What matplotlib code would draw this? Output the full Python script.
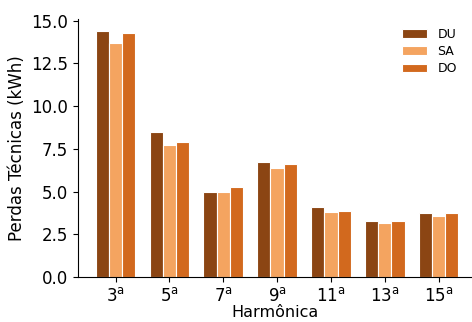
import numpy as np
import matplotlib.pyplot as plt

# harmonic orders and losses per method
harmonics = ["3", "5", "7", "9", "11", "13", "15"]
du = [14.4, 8.5, 4.95, 6.7, 4.1, 3.27, 3.75]
sa = [13.7, 7.75, 5.0, 6.4, 3.8, 3.15, 3.58]
do = [14.3, 7.9, 5.25, 6.6, 3.85, 3.27, 3.76]

labels = [r"$%s^{\mathrm{a}}$" % h for h in harmonics]
plt.rcParams['mathtext.fontset'] = 'dejavusans'

fig = plt.figure(figsize=(4.72, 3.22), dpi=100)
ax = fig.add_axes([0.165, 0.14, 0.835, 0.801])

x = np.arange(len(harmonics))
w = 0.245
ax.bar(x - w, du, w, color="#8B4513", edgecolor="white", linewidth=0.8, label="DU")
ax.bar(x, sa, w, color="#F4A460", edgecolor="white", linewidth=0.8, label="SA")
ax.bar(x + w, do, w, color="#D2691E", edgecolor="white", linewidth=0.8, label="DO")

ax.set_xticks(x)
ax.set_xticklabels(labels, fontsize=12)
ax.set_yticks([0, 2.5, 5, 7.5, 10, 12.5, 15])
ax.set_yticklabels(["0.0", "2.5", "5.0", "7.5", "10.0", "12.5", "15.0"])
ax.tick_params(axis="y", labelsize=12)
ax.set_xlim(-0.7, 6.62)
ax.set_ylim(0, 15.1)
ax.set_xlabel("Harmônica", fontsize=11.5, labelpad=0)
ax.set_ylabel("Perdas Técnicas (kWh)", fontsize=12)
ax.spines["top"].set_visible(False)
ax.spines["right"].set_visible(False)
ax.legend(frameon=False, fontsize=9, loc="upper right", labelspacing=0.35,
          bbox_to_anchor=(0.99, 1.01))

fig.savefig("out.png", dpi=100)
